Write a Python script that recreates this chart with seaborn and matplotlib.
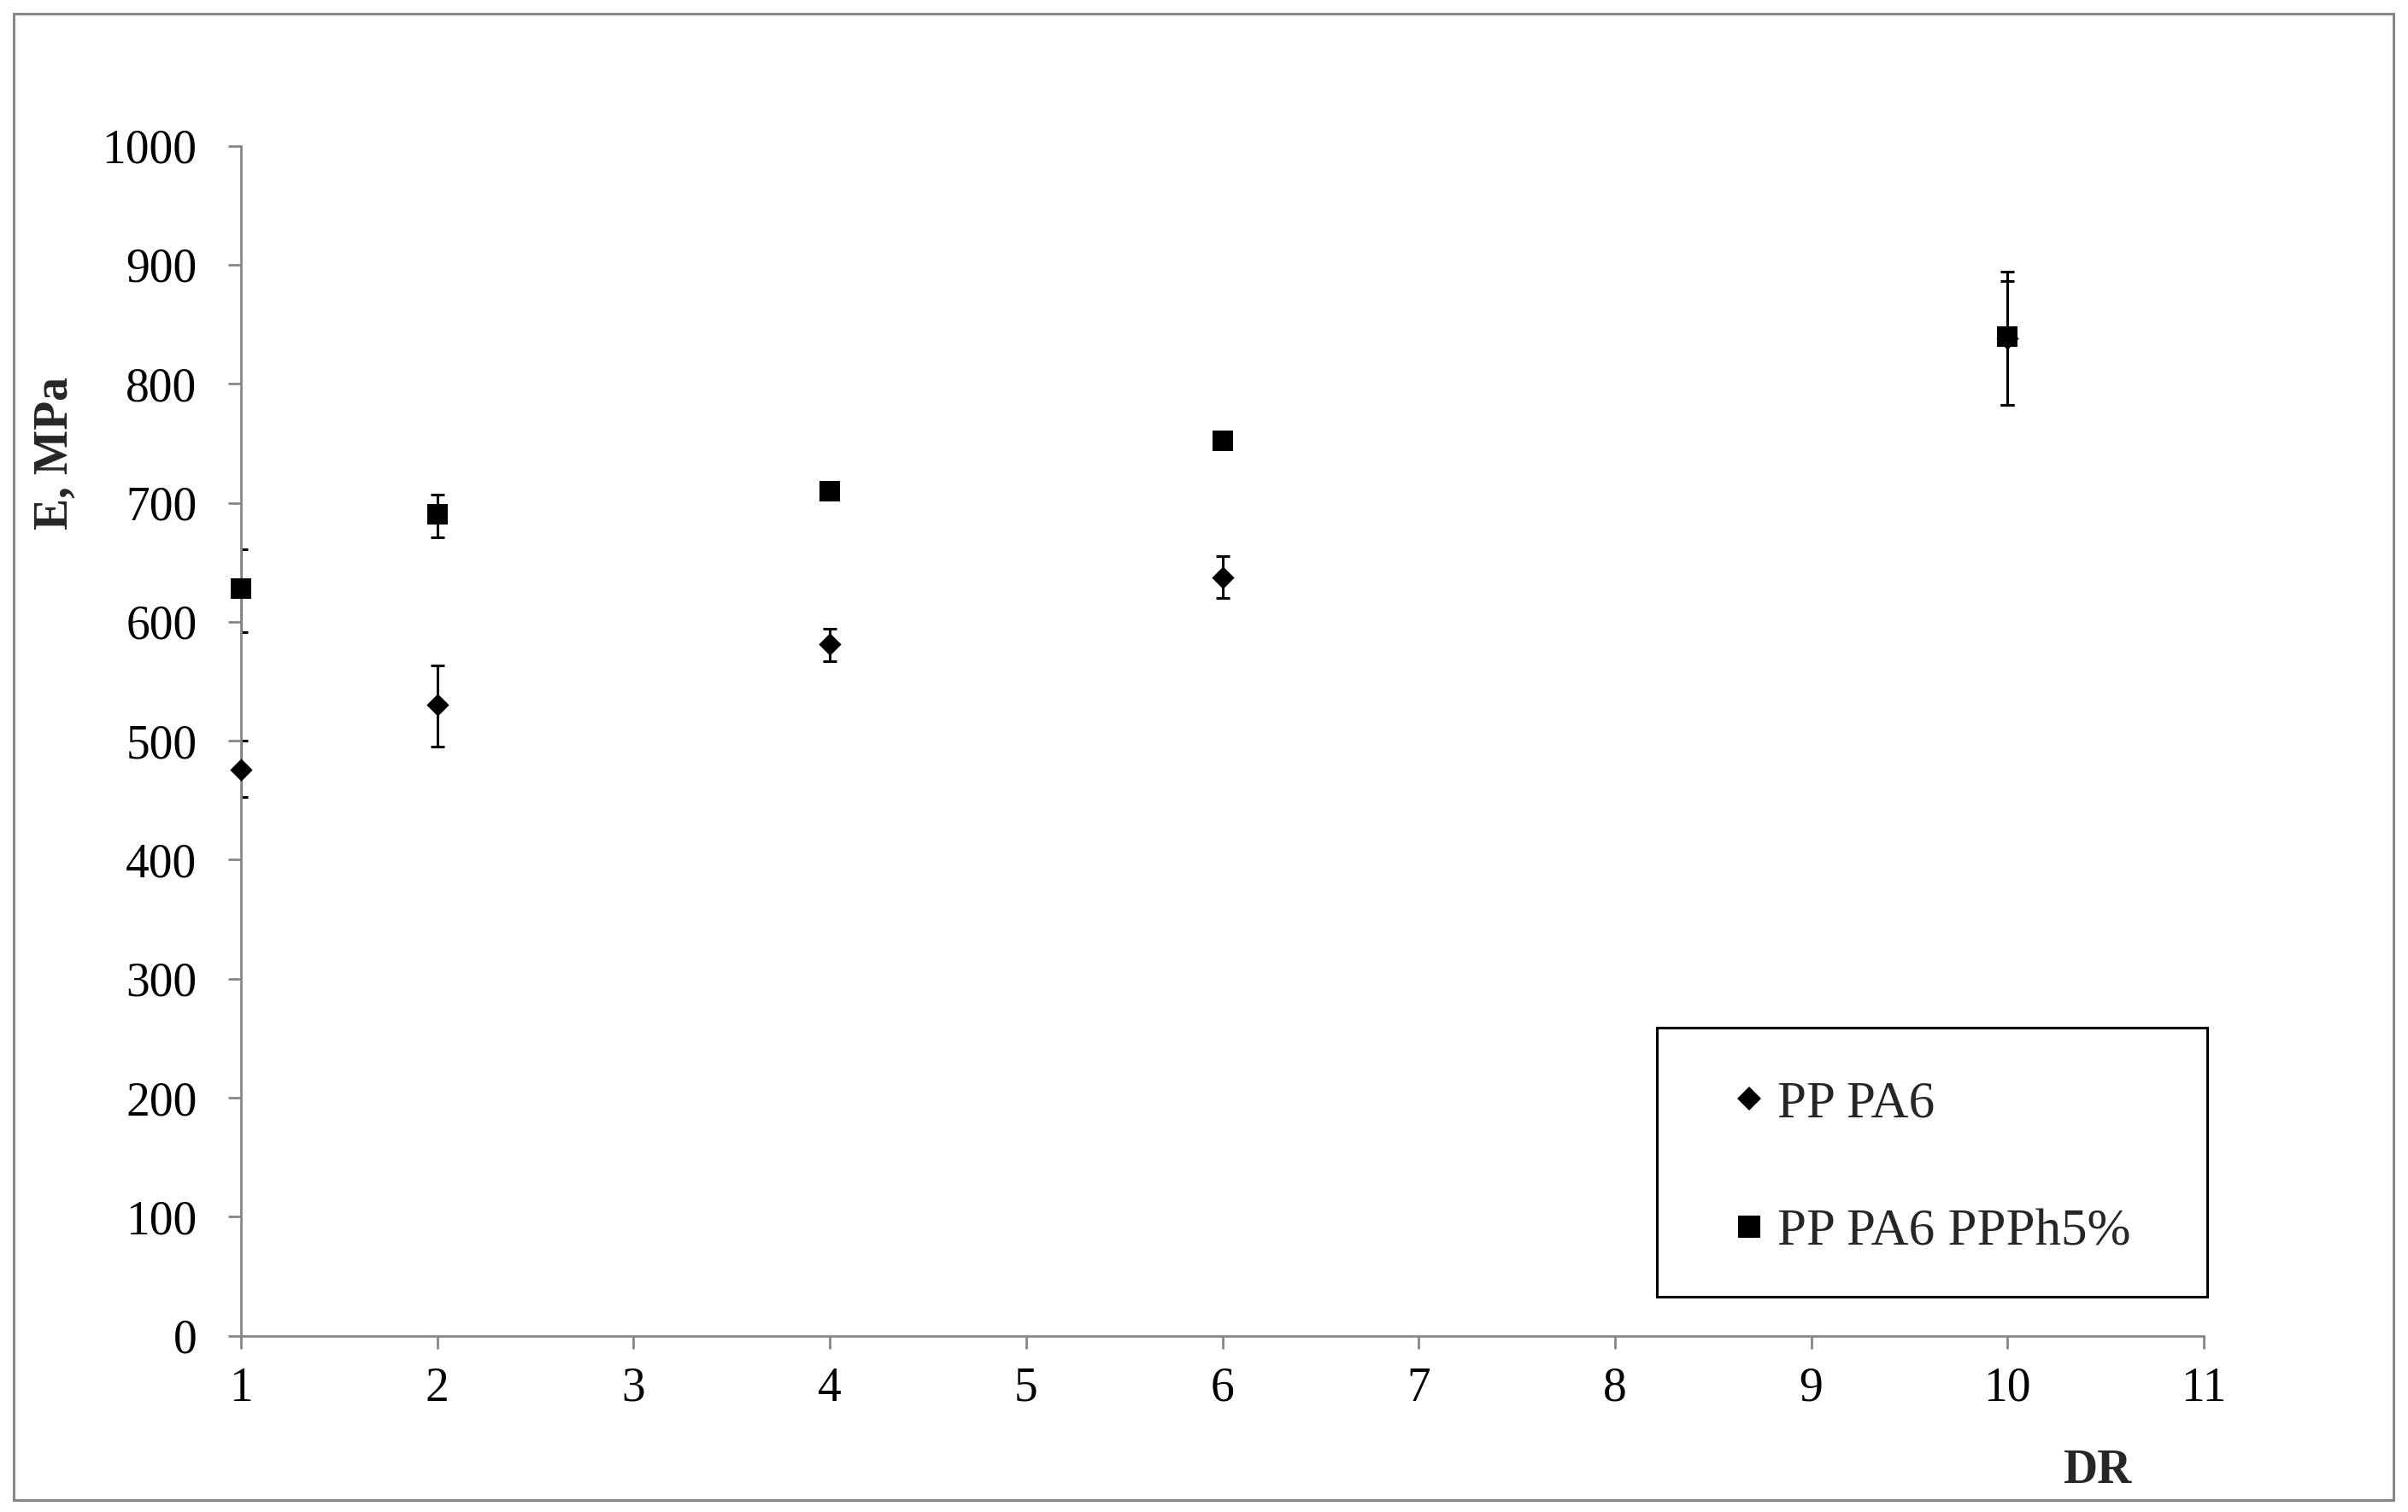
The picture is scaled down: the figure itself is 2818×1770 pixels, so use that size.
import numpy as np
import pandas as pd
import matplotlib
matplotlib.use("Agg")
import matplotlib.pyplot as plt
from matplotlib.lines import Line2D
from matplotlib.patches import Rectangle
import seaborn as sns

# ---- data ----
dr = [1, 2, 4, 6, 10]
series_names = ["PP PA6", "PP PA6 PPPh5%"]
e_pp_pa6 = [476, 530, 581, 637, 838]
err_pp_pa6_low = [23, 35, 14, 17, 56]
err_pp_pa6_up = [24, 33, 13, 18, 56]
e_ppph = [628, 690, 710, 752, 840]
err_ppph_low = [37, 19, 5, 5, 58]
err_ppph_up = [33, 17, 5, 5, 46]
x_ticks = list(range(1, 12))
y_ticks = list(range(0, 1001, 100))

df = pd.DataFrame({
    "DR": dr * 2,
    "E": e_pp_pa6 + e_ppph,
    "series": [series_names[0]] * len(dr) + [series_names[1]] * len(dr),
})

sns.set_style("white")
plt.rcParams["font.family"] = ["Liberation Serif", "DejaVu Serif"]

W, H = 2818, 1770
fig = plt.figure(figsize=(W / 100, H / 100), dpi=100)
ax = fig.add_axes([282 / W, 1 - 1563.6 / H, (2579 - 282) / W, (1563.6 - 170.7) / H])

grey = "#868686"

# error bars (clipped by the plot area like the original)
ax.errorbar(dr, e_pp_pa6, yerr=[err_pp_pa6_low, err_pp_pa6_up], fmt="none",
            ecolor="black", elinewidth=2.2, capsize=6, capthick=2.2, zorder=2)
ax.errorbar(dr, e_ppph, yerr=[err_ppph_low, err_ppph_up], fmt="none",
            ecolor="black", elinewidth=2.2, capsize=6, capthick=2.2, zorder=2)

sub1 = df[df["series"] == series_names[0]]
sub2 = df[df["series"] == series_names[1]]
sns.scatterplot(data=sub1, x="DR", y="E", marker="D", color="black", s=180,
                edgecolor="black", linewidth=0, ax=ax, legend=False, zorder=3, clip_on=False)
sns.scatterplot(data=sub2, x="DR", y="E", marker="s", color="black", s=320,
                edgecolor="black", linewidth=0, ax=ax, legend=False, zorder=4, clip_on=False)

ax.set_xlim(1, 11)
ax.set_ylim(0, 1000)
ax.set_xticks(x_ticks)
ax.set_yticks(y_ticks)
ax.set_xticklabels([str(t) for t in x_ticks])
ax.set_yticklabels([str(t) for t in y_ticks])

for s in ["top", "right"]:
    ax.spines[s].set_visible(False)
for s in ["left", "bottom"]:
    ax.spines[s].set_color(grey)
    ax.spines[s].set_linewidth(2.0)

ax.tick_params(axis="both", direction="out", length=11, width=2.0, color=grey,
               labelsize=40, labelcolor="black")
ax.tick_params(axis="y", pad=26)
ax.tick_params(axis="x", pad=15)
ax.tick_params(left=True, bottom=True)

ax.set_xlabel("DR", fontsize=40, fontweight="bold", va="center")
ax.xaxis.set_label_coords((2454 - 282) / (2579 - 282), -(1722 - 1563.6) / (1563.6 - 170.7))
ax.set_ylabel("E, MPa", fontsize=40, fontweight="bold", va="center")
ax.yaxis.set_label_coords((65 - 282) / (2579 - 282), (1563.6 - 530) / (1563.6 - 170.7))

# legend
handles = [
    Line2D([], [], marker="D", color="black", linestyle="none", markersize=14, markeredgewidth=0),
    Line2D([], [], marker="s", color="black", linestyle="none", markersize=18.5, markeredgewidth=0),
]
leg = fig.legend(handles, series_names, loc="upper left",
                 bbox_to_anchor=(2032 / W, 1 - 1265 / H), frameon=False,
                 fontsize=44, handlelength=0.5, handletextpad=0.28,
                 labelspacing=1.54, borderpad=0, borderaxespad=0)

fig.patches.append(Rectangle((1939 / W, 1 - 1518 / H), 644 / W, 315 / H,
                             transform=fig.transFigure, fill=False,
                             edgecolor="black", linewidth=2.2, zorder=5))
# outer chart border
fig.patches.append(Rectangle((16 / W, 1 - 1756 / H), (2801 - 16) / W, (1756 - 16) / H,
                             transform=fig.transFigure, fill=False,
                             edgecolor=grey, linewidth=2.2, zorder=5))

fig.savefig("out.png", dpi=100, facecolor="white")
